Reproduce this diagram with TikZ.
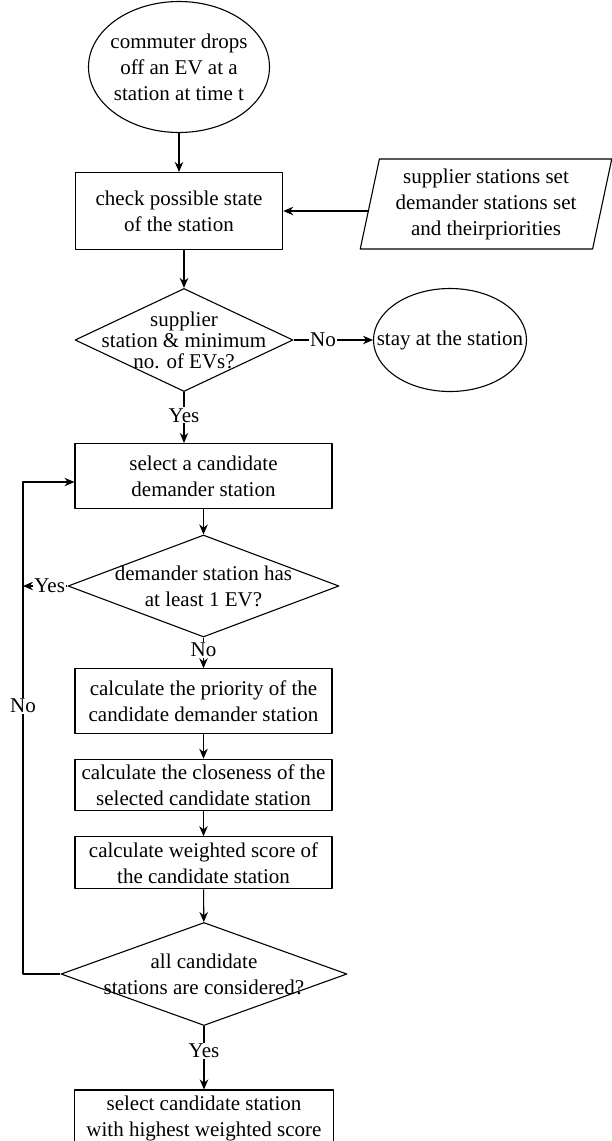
\documentclass[tikz,border=0pt]{standalone}
\usepackage{fontspec}
\setmainfont{Liberation Serif}
\usetikzlibrary{shapes.geometric,arrows.meta}

\begin{document}
\begin{tikzpicture}[x=1pt, y=-1pt, font=\fontsize{21}{26}\selectfont, line join=round, line width=1.1pt, >={Stealth[length=10pt,width=8.5pt]},
	box/.style={draw, rectangle, align=center, inner sep=0pt},
	decision/.style={draw, diamond, shape aspect=2, align=center, inner sep=-40pt},
	term/.style={draw, ellipse, align=center, inner sep=-25pt},
	io/.style={draw, trapezium, trapezium left angle=77.5, trapezium right angle=102.5, trapezium stretches=true, align=center, inner sep=2pt},
	lbl/.style={fill=white, inner sep=1pt}]
	\useasboundingbox (0,0) rectangle (611,1141);
	%\draw[color=gray!50,dashed] (0,0) grid[step=50] (611,1141);
	\node[term, minimum width=181pt, minimum height=131pt] (start) at (179,67) {commuter drops\\off an EV at a\\station at time t};
	\node[box, minimum width=207.5pt, minimum height=77pt] (check) at (179,211) {check possible state\\of the station};
	\node[io, minimum width=252pt, minimum height=90pt] (sets) at (486,204) {supplier stations set\\demander stations set\\and theirpriorities};
	\node[decision, minimum width=218pt, minimum height=103pt, font=\fontsize{21}{21}\selectfont] (supply) at (184,340) {supplier\\station \& minimum\\no. of EVs?};
	\node[term, minimum width=153pt, minimum height=103pt] (stay) at (450,340) {stay at the station};
	\node[box, minimum width=257pt, minimum height=65pt] (select) at (203.5,476) {select a candidate\\demander station};
	\node[decision, minimum width=271pt, minimum height=102pt] (hasev) at (203.5,586) {demander station has\\at least 1 EV?};
	\node[box, minimum width=257pt, minimum height=64.5pt] (prio) at (203.5,701) {calculate the priority of the\\candidate demander station};
	\node[box, minimum width=257pt, minimum height=51.5pt] (close) at (203.5,785) {calculate the closeness of the\\selected candidate station};
	\node[box, minimum width=257pt, minimum height=52pt] (score) at (203.5,862.7) {calculate weighted score of\\the candidate station};
	\node[decision, minimum width=286pt, minimum height=103pt] (allc) at (204,974) {all candidate\\stations are considered?};
	\node[box, minimum width=259pt, minimum height=56pt] (best) at (204,1118) {select candidate station\\with highest weighted score};
	\coordinate (loopx) at (23,0);
	\coordinate (entry) at ([yshift=-6pt]select.west);
	
	\draw[->] (start) -- (check);
	\draw[->] (sets.west |- check.east) -- (check.east);
	\draw[->] (check.south -| supply.north) -- (supply.north);
	\draw[->] (supply) -- node[lbl, pos=.37]{No} (stay);
	\draw[->] (supply.south) -- node[lbl, pos=.46]{Yes} (supply.south |- select.north);
	\draw[->] (select) -- (hasev);
	\draw[->] (hasev.west) -- node[lbl, pos=.4]{Yes} (hasev.west -| loopx);
	\draw[->] (hasev) -- node[lbl, pos=.4]{No} (prio);
	\foreach \a/\b in {prio/close, close/score, score/allc} \draw[->] (\a) -- (\b);
	\draw[->] (allc.west) -- (allc.west -| loopx) -- node[lbl, pos=.545]{No} (loopx |- entry) -- (entry);
	\draw[->] (allc) -- node[lbl, pos=.39]{Yes} (best);
\end{tikzpicture}
\end{document}
